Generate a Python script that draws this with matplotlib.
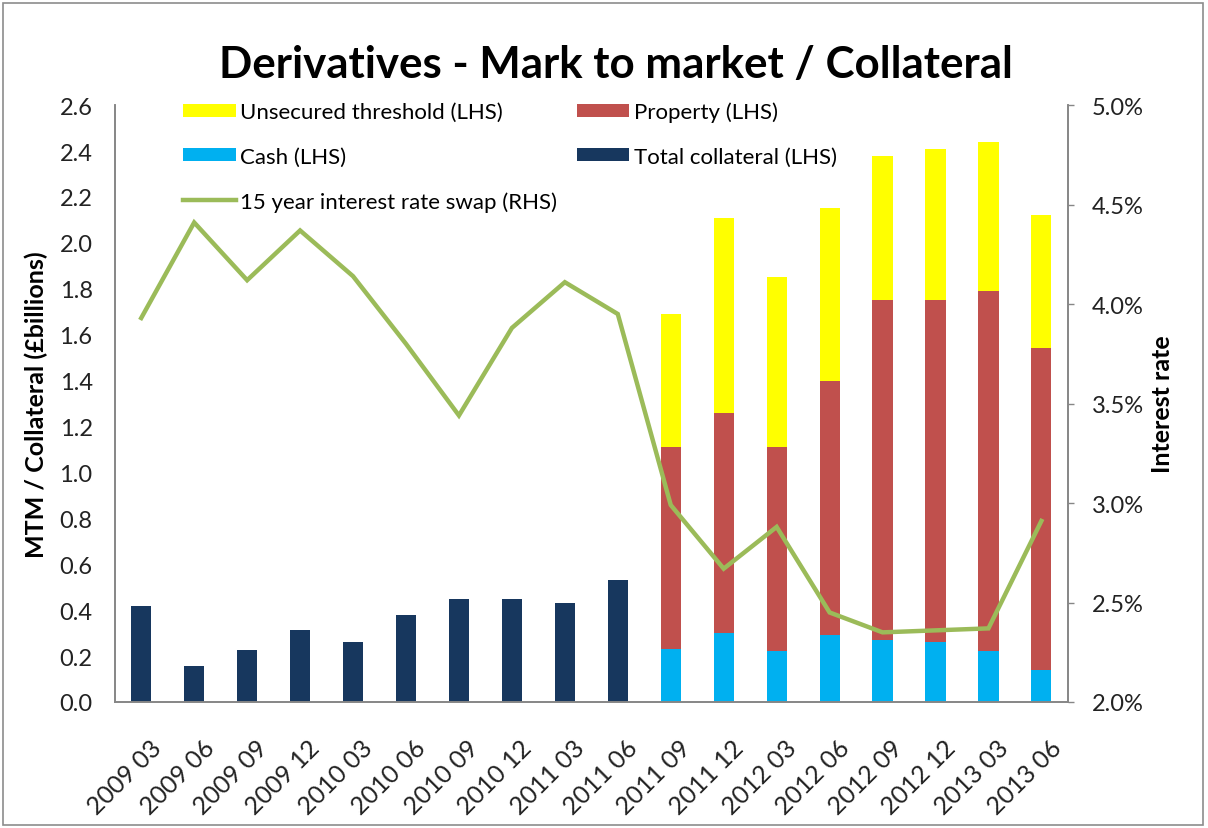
import matplotlib
matplotlib.use("Agg")
import matplotlib.pyplot as plt
import matplotlib.transforms as mtransforms
from matplotlib.patches import Rectangle
from matplotlib.ticker import FuncFormatter, MultipleLocator
import numpy as np

plt.rcParams['font.family'] = ['Lato', 'DejaVu Sans']

# quarter labels
dates = ['2009 03', '2009 06', '2009 09', '2009 12', '2010 03', '2010 06',
         '2010 09', '2010 12', '2011 03', '2011 06', '2011 09', '2011 12',
         '2012 03', '2012 06', '2012 09', '2012 12', '2013 03', '2013 06']

# 2009 03 - 2011 06: only the total is shown
total_collateral = [0.42, 0.155, 0.225, 0.315, 0.26, 0.38, 0.447, 0.447, 0.432, 0.53]

# 2011 09 - 2013 06: split by type
cash = [0.23, 0.30, 0.22, 0.29, 0.27, 0.26, 0.22, 0.14]
prop = [0.88, 0.96, 0.89, 1.11, 1.48, 1.49, 1.57, 1.40]
unsecured = [0.58, 0.85, 0.74, 0.75, 0.63, 0.66, 0.65, 0.58]

# 15 year swap rate, %
swap = [3.93, 4.41, 4.12, 4.37, 4.14, 3.80, 3.44, 3.88, 4.11, 3.95,
        2.99, 2.67, 2.88, 2.45, 2.35, 2.36, 2.37, 2.91]

c_yellow = '#FFFF00'
c_prop = '#C0504D'
c_cash = '#00B0F0'
c_navy = '#17375E'
c_line = '#9BBB59'
c_axis = '#868686'

fig = plt.figure(figsize=(12.08, 8.29), dpi=100)
ax = fig.add_axes([0.095, 0.152, 0.789, 0.72])
ax2 = ax.twinx()

x = np.arange(len(dates))
n_old = len(total_collateral)
x_old = x[:n_old]
x_new = x[n_old:]
w = 0.38

ax.bar(x_new, unsecured, w, bottom=np.array(cash) + np.array(prop), color=c_yellow,
       label='Unsecured threshold (LHS)')
ax.bar(x_new, cash, w, color=c_cash, label='Cash (LHS)')
ax.bar(x_new, prop, w, bottom=cash, color=c_prop, label='Property (LHS)')
ax.bar(x_old, total_collateral, w, color=c_navy, label='Total collateral (LHS)')

ax2.plot(x, np.array(swap) / 100, color=c_line, lw=3.2, solid_joinstyle='miter',
         label='15 year interest rate swap (RHS)')

ax.set_xlim(-0.5, len(dates) - 0.5)
ax.set_ylim(0, 2.6)
ax.yaxis.set_major_locator(MultipleLocator(0.2))
ax.yaxis.set_major_formatter(FuncFormatter(lambda v, p: '%.1f' % v))
ax2.set_ylim(0.02, 0.05)
ax2.yaxis.set_major_locator(MultipleLocator(0.005))
ax2.yaxis.set_major_formatter(FuncFormatter(lambda v, p: '%.1f%%' % (v * 100)))

for a in (ax, ax2):
    a.spines['top'].set_visible(False)
    for s in ('left', 'right', 'bottom'):
        a.spines[s].set_color(c_axis)
        a.spines[s].set_linewidth(1.2)

ax.set_xticks(x)
ax.set_xticklabels(dates, rotation=45, ha='right', rotation_mode='anchor')
ax.tick_params(axis='x', length=0, pad=24, labelsize=18, labelcolor='#222222')
ax.tick_params(axis='y', length=0, pad=16, labelsize=17, labelcolor='#222222')
ax2.tick_params(axis='y', length=4.5, width=1, color=c_axis, pad=13, labelsize=17,
                labelcolor='#222222')
shift = mtransforms.ScaledTranslation(0.08, 0, fig.dpi_scale_trans)
for lab in ax.get_xticklabels():
    lab.set_transform(lab.get_transform() + shift)

ax.set_ylabel('MTM / Collateral (£billions)', fontsize=18, fontweight='bold', labelpad=8)
ax2.set_ylabel('Interest rate', fontsize=18, fontweight='bold', labelpad=5)

fig.text(0.5095, 0.9216, 'Derivatives - Mark to market / Collateral', ha='center', va='center',
         fontsize=31.6, fontweight='bold')

# legend: three rows left, two rows right
h1, l1 = ax.get_legend_handles_labels()
h2, l2 = ax2.get_legend_handles_labels()
order_h = [h1[0], h1[1], h2[0], h1[2], h1[3]]
order_l = [l1[0], l1[1], l2[0], l1[2], l1[3]]
ax2.legend(order_h, order_l, ncol=2, loc='upper left', bbox_to_anchor=(0.072, 1.006),
           frameon=False, fontsize=16, handlelength=2.35, handleheight=0.5,
           handletextpad=0.2, labelspacing=1.1, columnspacing=0.9,
           borderpad=0, borderaxespad=0)

fig.patches.append(Rectangle((0.0025, 0.004), 0.9935, 0.991, transform=fig.transFigure,
                             fill=False, edgecolor='#8c8c8c', linewidth=1.2))

fig.savefig('out.png', dpi=100)
